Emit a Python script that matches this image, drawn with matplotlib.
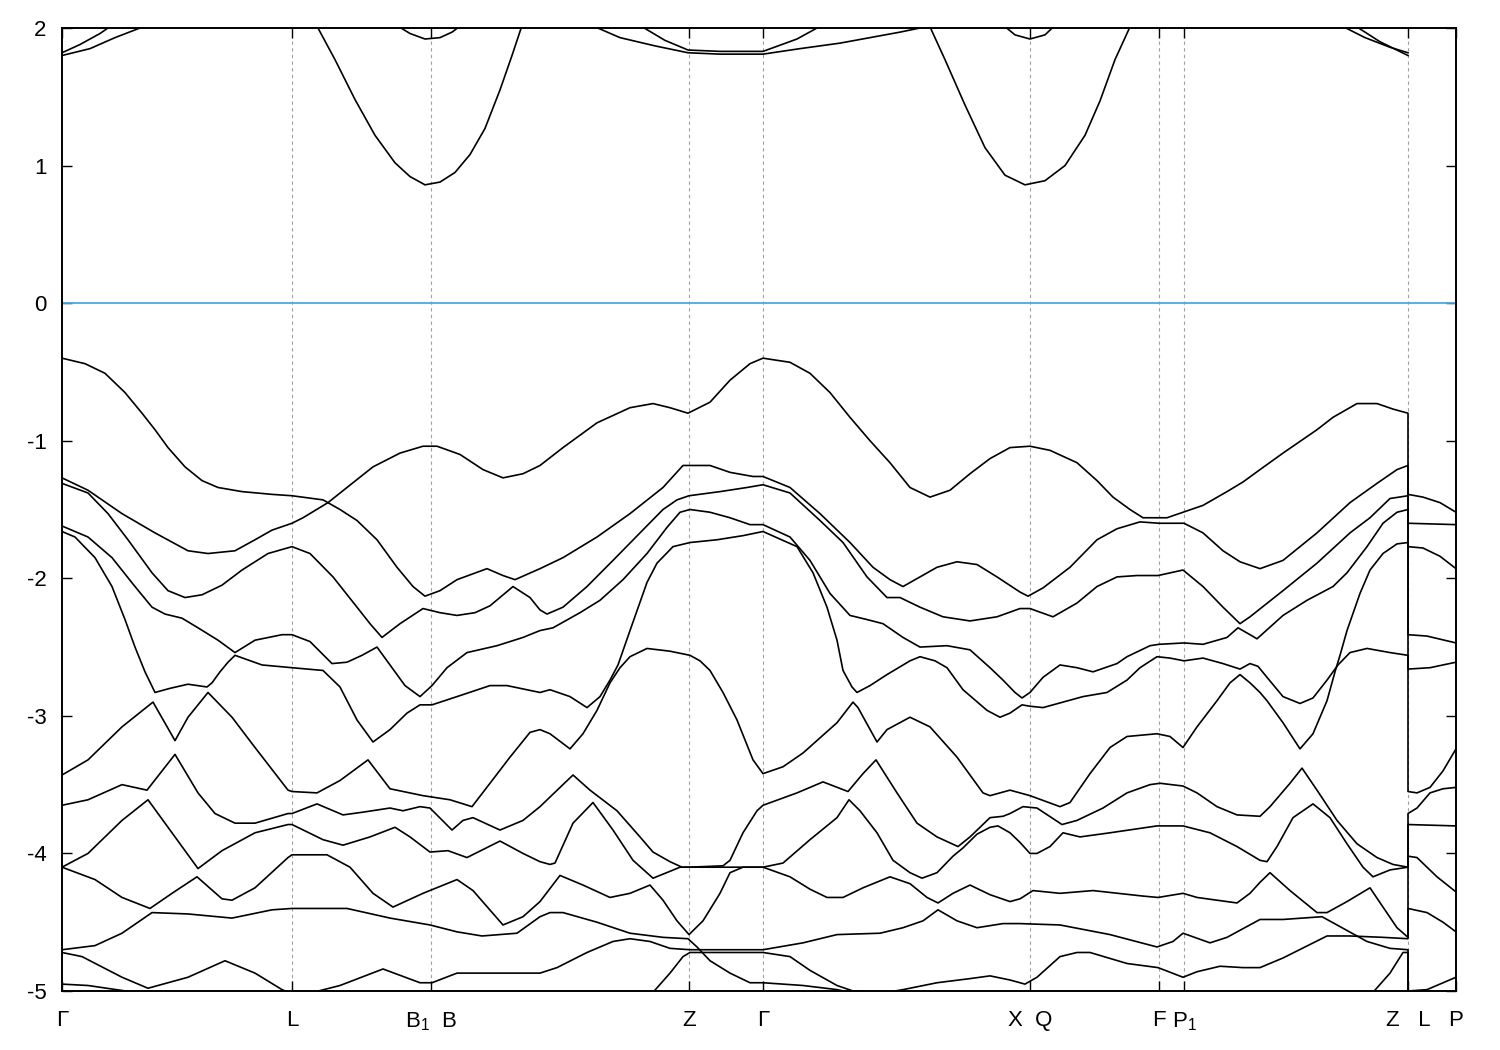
import matplotlib
matplotlib.use("Agg")
import matplotlib.pyplot as plt

plt.rcParams['font.family'] = ['Liberation Sans', 'DejaVu Sans']
plt.rcParams['mathtext.fontset'] = 'custom'
plt.rcParams['mathtext.rm'] = 'Liberation Sans'
plt.rcParams['mathtext.it'] = 'Liberation Sans'
plt.rcParams['axes.unicode_minus'] = False

# high-symmetry points along the k-path
k_ticks = [0.00, 2.30, 3.69, 6.27, 7.01, 9.68, 10.97, 11.22, 13.46, 13.94]
k_labels = ['Γ', 'L', 'B$_1$  B', 'Z', 'Γ', 'X  Q', 'F', 'P$_1$', 'Z   L', 'P']
e_ticks = [-5, -4, -3, -2, -1, 0, 1, 2]
e_fermi = 0.0

# valence bands (k, E in eV)
band01 = [(0.00, -0.40), (0.23, -0.44), (0.43, -0.51), (0.63, -0.65), (0.80, -0.80), (0.93, -0.92), (1.06, -1.05),
          (1.23, -1.19), (1.40, -1.29), (1.56, -1.34), (1.80, -1.37), (2.10, -1.39), (2.30, -1.40), (2.61, -1.43),
          (2.78, -1.50), (2.95, -1.58), (3.15, -1.72), (3.35, -1.92), (3.51, -2.06), (3.63, -2.13), (3.78, -2.09),
          (3.95, -2.01), (4.25, -1.93), (4.41, -1.98), (4.53, -2.01), (4.78, -1.93), (5.01, -1.85), (5.35, -1.70),
          (5.68, -1.53), (6.01, -1.34), (6.21, -1.18), (6.27, -1.18), (6.48, -1.18), (6.68, -1.23), (6.91, -1.26),
          (7.01, -1.26), (7.28, -1.34), (7.58, -1.53), (7.88, -1.74), (8.11, -1.92), (8.28, -2.01), (8.41, -2.06),
          (8.58, -1.99), (8.75, -1.92), (8.95, -1.88), (9.15, -1.90), (9.35, -1.99), (9.58, -2.10), (9.66, -2.13),
          (9.81, -2.07), (10.08, -1.92), (10.35, -1.72), (10.55, -1.64), (10.78, -1.59), (10.97, -1.60),
          (11.22, -1.60), (11.41, -1.67), (11.61, -1.80), (11.78, -1.88), (11.98, -1.93), (12.21, -1.87),
          (12.55, -1.67), (12.88, -1.45), (13.15, -1.31), (13.35, -1.21), (13.46, -1.18), (13.46, -1.60),
          (13.94, -1.61)]
band02 = [(0.00, -1.27), (0.26, -1.36), (0.60, -1.53), (0.93, -1.67), (1.26, -1.80), (1.46, -1.82), (1.73, -1.80),
          (1.93, -1.72), (2.10, -1.65), (2.30, -1.60), (2.41, -1.56), (2.66, -1.45), (2.85, -1.34), (3.11, -1.19),
          (3.38, -1.09), (3.61, -1.04), (3.75, -1.04), (3.98, -1.10), (4.21, -1.21), (4.41, -1.27), (4.61, -1.24),
          (4.78, -1.18), (5.01, -1.05), (5.35, -0.87), (5.68, -0.76), (5.91, -0.73), (6.08, -0.76), (6.26, -0.80),
          (6.48, -0.72), (6.68, -0.56), (6.88, -0.44), (7.01, -0.40), (7.28, -0.43), (7.48, -0.51), (7.68, -0.65),
          (7.88, -0.83), (8.08, -1.00), (8.28, -1.16), (8.48, -1.34), (8.68, -1.41), (8.88, -1.36), (9.08, -1.24),
          (9.28, -1.13), (9.48, -1.05), (9.68, -1.04), (9.88, -1.07), (10.15, -1.16), (10.35, -1.29),
          (10.51, -1.41), (10.68, -1.50), (10.81, -1.56), (10.95, -1.56), (11.05, -1.56), (11.21, -1.52),
          (11.41, -1.47), (11.65, -1.37), (11.81, -1.30), (11.98, -1.21), (12.21, -1.09), (12.55, -0.92),
          (12.71, -0.83), (12.95, -0.73), (13.15, -0.73), (13.31, -0.77), (13.46, -0.80), (13.46, -1.39),
          (13.61, -1.41), (13.78, -1.45), (13.94, -1.52)]
band03 = [(0.00, -1.31), (0.26, -1.38), (0.46, -1.53), (0.66, -1.72), (0.90, -1.96), (1.06, -2.09), (1.23, -2.14),
          (1.40, -2.12), (1.60, -2.05), (1.80, -1.94), (2.06, -1.82), (2.30, -1.77), (2.48, -1.82), (2.71, -1.99),
          (2.95, -2.21), (3.08, -2.33), (3.20, -2.43), (3.38, -2.33), (3.61, -2.22), (3.78, -2.25), (3.95, -2.27),
          (4.13, -2.25), (4.28, -2.20), (4.51, -2.06), (4.68, -2.14), (4.78, -2.23), (4.85, -2.26), (5.01, -2.21),
          (5.25, -2.06), (5.51, -1.87), (5.78, -1.67), (6.01, -1.50), (6.15, -1.43), (6.27, -1.40), (6.58, -1.37),
          (6.85, -1.34), (7.01, -1.32), (7.28, -1.38), (7.58, -1.58), (7.81, -1.74), (8.05, -1.99), (8.25, -2.14),
          (8.38, -2.14), (8.58, -2.21), (8.81, -2.28), (9.08, -2.31), (9.35, -2.28), (9.58, -2.22), (9.68, -2.22),
          (9.91, -2.28), (10.15, -2.18), (10.35, -2.06), (10.55, -1.99), (10.75, -1.98), (10.96, -1.98),
          (11.21, -1.94), (11.41, -2.06), (11.61, -2.21), (11.78, -2.33), (11.88, -2.28), (12.21, -2.09),
          (12.55, -1.89), (12.88, -1.67), (13.08, -1.56), (13.28, -1.42), (13.46, -1.40), (13.46, -1.77),
          (13.61, -1.78), (13.78, -1.84), (13.94, -1.93)]
band04 = [(0.00, -1.62), (0.26, -1.70), (0.50, -1.85), (0.73, -2.06), (0.90, -2.21), (1.03, -2.26), (1.20, -2.29),
          (1.36, -2.36), (1.56, -2.45), (1.73, -2.54), (1.93, -2.45), (2.20, -2.41), (2.30, -2.41), (2.48, -2.46),
          (2.70, -2.62), (2.85, -2.61), (3.00, -2.56), (3.15, -2.50), (3.28, -2.63), (3.43, -2.78), (3.58, -2.86),
          (3.70, -2.78), (3.85, -2.65), (4.05, -2.54), (4.35, -2.49), (4.61, -2.43), (4.78, -2.38), (4.91, -2.36),
          (5.18, -2.25), (5.38, -2.16), (5.61, -2.01), (5.85, -1.82), (6.05, -1.63), (6.18, -1.52), (6.28, -1.50),
          (6.48, -1.52), (6.68, -1.56), (6.88, -1.61), (7.01, -1.61), (7.28, -1.70), (7.48, -1.87), (7.68, -2.11),
          (7.88, -2.27), (8.05, -2.30), (8.21, -2.33), (8.41, -2.43), (8.58, -2.50), (8.85, -2.49), (9.08, -2.52),
          (9.28, -2.65), (9.41, -2.74), (9.53, -2.83), (9.60, -2.87), (9.68, -2.83), (9.81, -2.72), (9.98, -2.63),
          (10.15, -2.65), (10.31, -2.68), (10.55, -2.62), (10.65, -2.57), (10.88, -2.49), (10.97, -2.48),
          (11.22, -2.47), (11.41, -2.48), (11.65, -2.43), (11.76, -2.36), (11.88, -2.41), (11.95, -2.44),
          (12.21, -2.27), (12.45, -2.16), (12.71, -2.06), (12.85, -1.96), (13.05, -1.77), (13.21, -1.60),
          (13.35, -1.52), (13.46, -1.50), (13.46, -2.41), (13.65, -2.42), (13.94, -2.47)]
band05 = [(0.00, -1.66), (0.13, -1.70), (0.33, -1.85), (0.50, -2.06), (0.63, -2.30), (0.73, -2.50), (0.83, -2.68),
          (0.93, -2.83), (1.08, -2.80), (1.26, -2.77), (1.45, -2.79), (1.50, -2.76), (1.58, -2.68), (1.66, -2.61),
          (1.73, -2.56), (2.00, -2.63), (2.30, -2.65), (2.61, -2.67), (2.78, -2.79), (2.95, -3.03), (3.11, -3.19),
          (3.28, -3.10), (3.45, -2.98), (3.58, -2.92), (3.70, -2.92), (3.95, -2.86), (4.28, -2.78), (4.45, -2.78),
          (4.78, -2.83), (4.88, -2.81), (5.08, -2.86), (5.25, -2.94), (5.38, -2.86), (5.48, -2.74), (5.56, -2.63),
          (5.68, -2.38), (5.85, -2.03), (5.95, -1.89), (6.11, -1.77), (6.28, -1.74), (6.55, -1.72), (6.81, -1.69),
          (7.01, -1.66), (7.35, -1.77), (7.51, -1.96), (7.65, -2.21), (7.75, -2.45), (7.81, -2.67), (7.90, -2.79),
          (7.95, -2.83), (8.08, -2.78), (8.25, -2.70), (8.48, -2.60), (8.58, -2.57), (8.73, -2.60), (8.85, -2.65),
          (9.01, -2.81), (9.25, -2.96), (9.38, -3.01), (9.48, -2.98), (9.60, -2.92), (9.68, -2.93), (9.81, -2.94),
          (10.01, -2.90), (10.21, -2.86), (10.45, -2.83), (10.65, -2.74), (10.78, -2.65), (10.95, -2.57),
          (11.08, -2.58), (11.22, -2.60), (11.41, -2.58), (11.61, -2.62), (11.78, -2.66), (11.88, -2.62),
          (11.96, -2.64), (12.05, -2.72), (12.21, -2.86), (12.38, -2.91), (12.51, -2.87), (12.65, -2.74),
          (12.76, -2.63), (12.88, -2.54), (13.05, -2.51), (13.28, -2.54), (13.46, -2.56), (13.46, -3.55),
          (13.55, -3.56), (13.68, -3.52), (13.81, -3.40), (13.94, -3.24)]
band06 = [(0.00, -3.43), (0.26, -3.32), (0.60, -3.08), (0.91, -2.90), (1.13, -3.18), (1.26, -3.01), (1.46, -2.83),
          (1.70, -3.01), (1.93, -3.23), (2.26, -3.54), (2.30, -3.55), (2.55, -3.56), (2.78, -3.47), (3.06, -3.32),
          (3.28, -3.53), (3.61, -3.58), (3.88, -3.61), (4.10, -3.66), (4.28, -3.49), (4.48, -3.30), (4.68, -3.12),
          (4.78, -3.10), (4.88, -3.13), (5.08, -3.24), (5.21, -3.13), (5.35, -2.96), (5.48, -2.76), (5.58, -2.65),
          (5.68, -2.57), (5.85, -2.51), (6.08, -2.53), (6.28, -2.56), (6.38, -2.60), (6.48, -2.67), (6.61, -2.83),
          (6.75, -3.03), (6.91, -3.32), (7.01, -3.42), (7.21, -3.37), (7.41, -3.27), (7.75, -3.05), (7.91, -2.90),
          (7.96, -2.94), (8.15, -3.19), (8.25, -3.10), (8.48, -3.01), (8.68, -3.08), (8.95, -3.30), (9.21, -3.56),
          (9.28, -3.58), (9.48, -3.54), (9.58, -3.56), (9.68, -3.58), (9.98, -3.66), (10.08, -3.63),
          (10.28, -3.42), (10.48, -3.23), (10.65, -3.15), (10.95, -3.13), (11.08, -3.15), (11.21, -3.23),
          (11.35, -3.08), (11.55, -2.89), (11.68, -2.76), (11.78, -2.70), (11.88, -2.76), (11.98, -2.83),
          (12.05, -2.89), (12.21, -3.05), (12.38, -3.24), (12.51, -3.13), (12.65, -2.89), (12.73, -2.68),
          (12.78, -2.56), (12.85, -2.38), (12.98, -2.11), (13.08, -1.94), (13.21, -1.82), (13.35, -1.75),
          (13.46, -1.74), (13.46, -2.66), (13.68, -2.65), (13.94, -2.61)]
band07 = [(0.00, -3.65), (0.26, -3.61), (0.60, -3.50), (0.85, -3.54), (1.13, -3.28), (1.36, -3.56), (1.53, -3.71),
          (1.73, -3.78), (1.93, -3.78), (2.26, -3.71), (2.30, -3.71), (2.55, -3.64), (2.81, -3.72), (3.01, -3.70),
          (3.28, -3.67), (3.41, -3.69), (3.58, -3.66), (3.68, -3.67), (3.90, -3.83), (4.01, -3.76), (4.11, -3.74),
          (4.38, -3.83), (4.61, -3.76), (4.78, -3.66), (4.88, -3.59), (5.11, -3.43), (5.28, -3.54), (5.55, -3.69),
          (5.78, -3.88), (5.91, -3.99), (6.08, -4.06), (6.20, -4.10), (6.27, -4.10), (6.61, -4.09), (6.68, -4.05),
          (6.81, -3.85), (6.95, -3.69), (7.01, -3.65), (7.35, -3.56), (7.61, -3.48), (7.86, -3.55), (8.01, -3.42),
          (8.14, -3.32), (8.35, -3.56), (8.55, -3.78), (8.75, -3.88), (8.96, -3.95), (9.08, -3.88), (9.28, -3.74),
          (9.41, -3.73), (9.48, -3.71), (9.61, -3.66), (9.75, -3.67), (10.00, -3.79), (10.15, -3.76),
          (10.41, -3.67), (10.65, -3.56), (10.88, -3.50), (10.98, -3.49), (11.21, -3.51), (11.35, -3.56),
          (11.55, -3.66), (11.75, -3.72), (11.98, -3.73), (12.08, -3.66), (12.28, -3.49), (12.40, -3.38),
          (12.55, -3.54), (12.75, -3.76), (12.95, -3.93), (13.15, -4.03), (13.31, -4.08), (13.46, -4.10),
          (13.46, -3.71), (13.55, -3.67), (13.68, -3.56), (13.81, -3.53), (13.94, -3.52)]
band08 = [(0.00, -4.10), (0.26, -4.00), (0.60, -3.76), (0.86, -3.61), (1.10, -3.85), (1.36, -4.11), (1.60, -3.98),
          (1.93, -3.85), (2.26, -3.79), (2.30, -3.79), (2.61, -3.90), (2.81, -3.94), (3.08, -3.88), (3.33, -3.81),
          (3.48, -3.88), (3.68, -3.99), (3.86, -3.98), (4.05, -4.03), (4.38, -3.91), (4.61, -4.00), (4.78, -4.06),
          (4.88, -4.08), (4.93, -4.07), (5.11, -3.78), (5.31, -3.63), (5.51, -3.83), (5.71, -4.05), (5.91, -4.18),
          (6.08, -4.13), (6.18, -4.10), (6.27, -4.10), (7.01, -4.10), (7.21, -4.07), (7.48, -3.90), (7.75, -3.74),
          (7.87, -3.61), (7.98, -3.69), (8.15, -3.85), (8.31, -4.05), (8.48, -4.14), (8.60, -4.18), (8.75, -4.14),
          (8.91, -4.02), (9.01, -3.96), (9.15, -3.86), (9.28, -3.81), (9.36, -3.80), (9.48, -3.85), (9.58, -3.92),
          (9.68, -4.00), (9.75, -4.00), (9.88, -3.95), (10.01, -3.85), (10.18, -3.88), (10.48, -3.85),
          (10.95, -3.80), (11.21, -3.80), (11.48, -3.85), (11.75, -3.95), (11.98, -4.05), (12.05, -4.06),
          (12.15, -3.95), (12.31, -3.74), (12.51, -3.64), (12.68, -3.74), (12.85, -3.93), (13.01, -4.10),
          (13.11, -4.17), (13.28, -4.12), (13.46, -4.10), (13.46, -3.79), (13.94, -3.80)]
band09 = [(0.00, -4.10), (0.33, -4.19), (0.60, -4.32), (0.88, -4.40), (1.10, -4.29), (1.35, -4.17), (1.60, -4.33),
          (1.70, -4.34), (1.93, -4.25), (2.26, -4.03), (2.30, -4.01), (2.65, -4.01), (2.88, -4.10), (3.11, -4.29),
          (3.31, -4.39), (3.61, -4.29), (3.95, -4.19), (4.11, -4.27), (4.41, -4.52), (4.61, -4.46), (4.78, -4.35),
          (4.98, -4.16), (5.21, -4.23), (5.48, -4.32), (5.68, -4.29), (5.88, -4.23), (6.01, -4.34), (6.15, -4.49),
          (6.27, -4.59), (6.41, -4.49), (6.58, -4.29), (6.68, -4.14), (6.81, -4.10), (7.01, -4.10), (7.28, -4.17),
          (7.48, -4.26), (7.65, -4.32), (7.81, -4.32), (8.01, -4.25), (8.28, -4.17), (8.48, -4.22), (8.65, -4.32),
          (8.76, -4.36), (8.91, -4.29), (9.08, -4.23), (9.28, -4.30), (9.48, -4.35), (9.58, -4.33), (9.71, -4.27),
          (9.98, -4.29), (10.31, -4.27), (10.81, -4.31), (10.96, -4.32), (11.21, -4.29), (11.35, -4.32),
          (11.75, -4.36), (11.88, -4.29), (11.98, -4.21), (12.08, -4.14), (12.28, -4.27), (12.55, -4.43),
          (12.65, -4.43), (12.85, -4.35), (13.08, -4.25), (13.21, -4.39), (13.35, -4.54), (13.46, -4.61),
          (13.46, -4.02), (13.55, -4.03), (13.75, -4.17), (13.94, -4.28)]
band10 = [(0.00, -4.70), (0.33, -4.67), (0.60, -4.58), (0.90, -4.43), (1.26, -4.44), (1.70, -4.47), (2.10, -4.41),
          (2.30, -4.40), (2.85, -4.40), (3.28, -4.47), (3.68, -4.52), (3.95, -4.57), (4.20, -4.60), (4.55, -4.58),
          (4.78, -4.46), (4.88, -4.43), (5.01, -4.43), (5.35, -4.50), (5.68, -4.58), (6.01, -4.61), (6.26, -4.62),
          (6.35, -4.68), (6.48, -4.78), (6.68, -4.87), (6.88, -4.94), (7.01, -4.94), (7.41, -4.96), (7.75, -4.99),
          (8.08, -5.04), (10.00, -5.15), (12.50, -5.15), (12.98, -5.07), (13.11, -5.01), (13.28, -4.87),
          (13.41, -4.72), (13.46, -4.72), (13.46, -5.15), (13.94, -5.15)]
band11 = [(0.00, -4.72), (0.20, -4.75), (0.60, -4.90), (0.86, -4.98), (1.26, -4.90), (1.63, -4.78), (1.93, -4.87),
          (2.20, -4.99), (2.30, -5.02), (2.41, -5.03), (2.51, -5.01), (2.78, -4.96), (3.21, -4.84), (3.58, -4.94),
          (3.70, -4.94), (3.95, -4.87), (4.28, -4.87), (4.78, -4.87), (4.95, -4.83), (5.25, -4.72), (5.51, -4.64),
          (5.68, -4.62), (5.88, -4.64), (6.08, -4.69), (6.28, -4.70), (7.01, -4.70), (7.41, -4.65), (7.75, -4.59),
          (8.18, -4.58), (8.41, -4.54), (8.61, -4.49), (8.76, -4.41), (8.95, -4.49), (9.15, -4.54), (9.41, -4.51),
          (9.58, -4.51), (9.98, -4.52), (10.48, -4.59), (10.95, -4.68), (11.11, -4.64), (11.21, -4.58),
          (11.48, -4.65), (11.65, -4.61), (11.98, -4.48), (12.21, -4.48), (12.60, -4.46), (12.85, -4.56),
          (13.05, -4.64), (13.28, -4.69), (13.46, -4.70), (13.46, -5.00), (13.65, -4.99), (13.94, -4.90)]
band12 = [(0.00, -4.95), (0.26, -4.96), (0.73, -5.01), (0.88, -5.04), (3.00, -5.15), (5.50, -5.15), (5.88, -5.04),
          (5.91, -5.01), (6.08, -4.87), (6.21, -4.75), (6.28, -4.72), (7.01, -4.72), (7.28, -4.75), (7.48, -4.85),
          (7.75, -4.96), (7.91, -5.00), (8.25, -5.01), (8.41, -4.99), (8.75, -4.94), (9.08, -4.91), (9.28, -4.89),
          (9.48, -4.92), (9.63, -4.95), (9.75, -4.90), (9.98, -4.75), (10.15, -4.72), (10.28, -4.72),
          (10.65, -4.80), (10.96, -4.83), (11.21, -4.90), (11.35, -4.86), (11.58, -4.82), (11.81, -4.83),
          (11.98, -4.83), (12.21, -4.76), (12.65, -4.60), (12.88, -4.60), (13.21, -4.61), (13.46, -4.62),
          (13.46, -4.40), (13.65, -4.43), (13.81, -4.50), (13.94, -4.57)]

# conduction bands
cband1 = [(0.00, 1.80), (0.28, 1.85), (0.53, 1.93), (0.78, 2.00), (0.90, 2.05)]
cband2 = [(0.00, 1.82), (0.18, 1.88), (0.38, 1.96), (0.46, 2.00), (0.55, 2.05)]
cband3 = [(2.53, 2.04), (2.73, 1.77), (2.93, 1.48), (3.13, 1.22), (3.33, 1.02), (3.48, 0.92), (3.63, 0.86),
          (3.78, 0.88), (3.93, 0.95), (4.08, 1.08), (4.23, 1.27), (4.38, 1.55), (4.50, 1.80), (4.61, 2.04)]
cband4 = [(3.30, 2.04), (3.48, 1.96), (3.63, 1.92), (3.78, 1.93), (3.90, 1.97), (4.03, 2.04)]
cband5 = [(5.23, 2.04), (5.58, 1.93), (5.93, 1.87), (6.26, 1.82), (6.58, 1.81), (7.01, 1.81), (7.38, 1.85),
          (7.78, 1.89), (8.08, 1.93), (8.38, 1.97), (8.58, 2.00), (8.70, 2.04)]
cband6 = [(5.73, 2.04), (6.03, 1.91), (6.26, 1.84), (6.58, 1.83), (7.01, 1.83), (7.35, 1.92), (7.65, 2.04)]
cband7 = [(8.66, 2.04), (8.83, 1.77), (9.03, 1.44), (9.23, 1.13), (9.43, 0.93), (9.63, 0.86), (9.83, 0.89),
          (10.03, 1.00), (10.23, 1.22), (10.38, 1.47), (10.53, 1.77), (10.70, 2.04)]
cband8 = [(9.38, 2.04), (9.53, 1.95), (9.68, 1.92), (9.83, 1.95), (9.96, 2.04)]
cband9 = [(12.73, 2.04), (13.03, 1.93), (13.28, 1.86), (13.46, 1.82)]
cband10 = [(12.88, 2.04), (13.18, 1.90), (13.46, 1.80)]

bands = [band01, band02, band03, band04, band05, band06, band07, band08, band09, band10, band11, band12,
         cband1, cband2, cband3, cband4, cband5, cband6, cband7, cband8, cband9, cband10]

fig = plt.figure(figsize=(15, 10.5), dpi=100)
ax = fig.add_axes([62 / 1500, 59 / 1050, 1394 / 1500, 963 / 1050])

for k in k_ticks[1:-1]:
    ax.axvline(k, color='#a0a0a0', lw=0.8, ls=(0, (3, 3)), zorder=1)

ax.axhline(e_fermi, color='#4ba9dd', lw=1.3, zorder=2)

for band in bands:
    ks = [p[0] for p in band]
    es = [p[1] for p in band]
    ax.plot(ks, es, color='black', lw=1.2, zorder=3)

ax.set_xlim(k_ticks[0], k_ticks[-1])
ax.set_ylim(-5, 2)
ax.set_xticks(k_ticks)
ax.set_xticklabels(k_labels)
ax.set_yticks(e_ticks)
ax.tick_params(axis='both', direction='in', length=7, width=1.0, labelsize=16,
               top=True, right=True)
ax.tick_params(axis='x', pad=14)
ax.tick_params(axis='y', pad=11)
for s in ax.spines.values():
    s.set_linewidth(1.4)

fig.savefig('out.png', dpi=100)
